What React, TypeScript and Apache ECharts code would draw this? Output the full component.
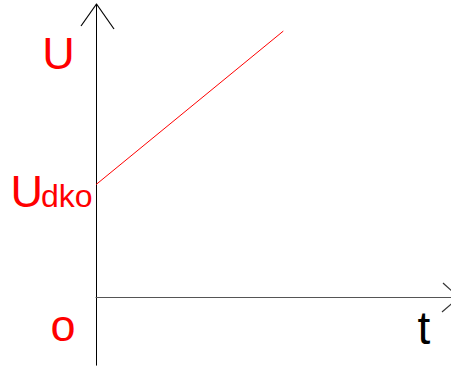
import React, { useEffect, useRef } from "react";
import * as echarts from "echarts";

// Data (abstract units): U = Udko + k·t
const tValues = [0, 5.16];
const uValues = [1, 2.36];
const xRange = [0, 10];
const yRange = [-0.6, 2.6];
const labelU = "U";
const labelUdkoMain = "U";
const labelUdkoSub = "dko";
const labelOrigin = "o";
const labelT = "t";

const FONT = "'Liberation Sans', Arial, sans-serif";

export default function App() {
  const ref = useRef<HTMLDivElement>(null);
  useEffect(() => {
    if (!ref.current) return;
    const chart = echarts.init(ref.current, undefined, { renderer: "svg" });
    const lineData = tValues.map((t, i) => [t, uValues[i]]);
    chart.setOption({
      animation: false,
      backgroundColor: "#ffffff",
      grid: {
        left: 96,
        top: 4,
        width: 363,
        height: 361.2,
        outerBoundsMode: "none",
        containLabel: false,
      },
      xAxis: {
        type: "value",
        min: xRange[0],
        max: xRange[1],
        axisLine: { show: true, onZero: true, lineStyle: { color: "#555555", width: 1 } },
        axisTick: { show: false },
        axisLabel: { show: false },
        splitLine: { show: false },
      },
      yAxis: {
        type: "value",
        min: yRange[0],
        max: yRange[1],
        axisLine: { show: true, onZero: true, lineStyle: { color: "#000000", width: 1 } },
        axisTick: { show: false },
        axisLabel: { show: false },
        splitLine: { show: false },
      },
      series: [
        {
          type: "line",
          data: lineData,
          symbol: "none",
          lineStyle: { color: "#ff0000", width: 1 },
        },
      ],
      graphic: [
        { type: "line", shape: { x1: 96.5, y1: 4, x2: 81, y2: 26 }, style: { stroke: "#000", lineWidth: 1.2 } },
        { type: "line", shape: { x1: 96.5, y1: 4, x2: 114, y2: 29 }, style: { stroke: "#000", lineWidth: 1.2 } },
        { type: "line", shape: { x1: 459, y1: 297.5, x2: 443, y2: 283 }, style: { stroke: "#333", lineWidth: 1.2 } },
        { type: "line", shape: { x1: 459, y1: 297.5, x2: 442, y2: 312 }, style: { stroke: "#333", lineWidth: 1.2 } },
        {
          type: "text",
          x: 58.5,
          y: 53.7,
          style: { text: labelU, fill: "#ff0000", font: `45px ${FONT}`, align: "center", verticalAlign: "middle" },
        },
        {
          type: "text",
          x: 26.7,
          y: 191,
          style: { text: labelUdkoMain, fill: "#ff0000", font: `45px ${FONT}`, align: "center", verticalAlign: "middle" },
        },
        {
          type: "text",
          x: 41,
          y: 195.6,
          style: { text: labelUdkoSub, fill: "#ff0000", font: `32px ${FONT}`, align: "left", verticalAlign: "middle" },
        },
        {
          type: "text",
          x: 63,
          y: 325.3,
          style: { text: labelOrigin, fill: "#ff0000", font: `45px ${FONT}`, align: "center", verticalAlign: "middle" },
        },
        {
          type: "text",
          x: 424,
          y: 328,
          style: { text: labelT, fill: "#000000", font: `46px ${FONT}`, align: "center", verticalAlign: "middle" },
        },
      ],
    });
    return () => chart.dispose();
  }, []);
  return (
    <div
      ref={ref}
      style={{ position: "fixed", left: 0, top: 0, width: 451, height: 368 }}
    />
  );
}
